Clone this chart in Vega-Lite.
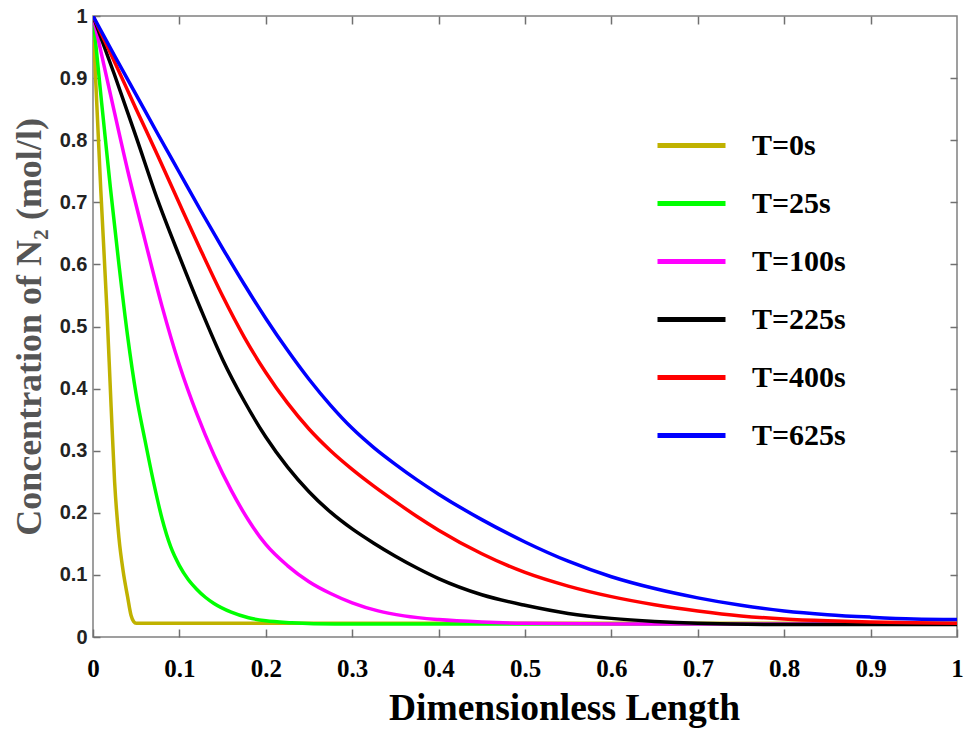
{
  "$schema": "https://vega.github.io/schema/vega-lite/v6.json",
  "width": 864,
  "height": 621,
  "autosize": {"type": "none"},
  "padding": {"left": 93, "top": 16, "right": 12, "bottom": 93},
  "background": "white",
  "config": {
    "view": {"stroke": "#808080", "strokeWidth": 1.5},
    "axis": {"grid": false, "domain": false, "tickColor": "#707070", "tickWidth": 1.5}
  },
  "data": {"values": [
    {"x":0,"c":1,"T":"T=0s"},{"x":0.003,"c":0.9,"T":"T=0s"},{"x":0.009,"c":0.72,"T":"T=0s"},{"x":0.016,"c":0.53,"T":"T=0s"},{"x":0.021,"c":0.37,"T":"T=0s"},{"x":0.025,"c":0.25,"T":"T=0s"},{"x":0.03,"c":0.16,"T":"T=0s"},{"x":0.035,"c":0.105,"T":"T=0s"},{"x":0.04,"c":0.065,"T":"T=0s"},{"x":0.044,"c":0.035,"T":"T=0s"},{"x":0.047,"c":0.025,"T":"T=0s"},{"x":0.05,"c":0.022,"T":"T=0s"},{"x":0.1,"c":0.022,"T":"T=0s"},{"x":0.5,"c":0.022,"T":"T=0s"},{"x":1,"c":0.022,"T":"T=0s"},
    {"x":0,"c":1,"T":"T=25s"},{"x":0.01,"c":0.86,"T":"T=25s"},{"x":0.02,"c":0.725,"T":"T=25s"},{"x":0.03,"c":0.6,"T":"T=25s"},{"x":0.04,"c":0.485,"T":"T=25s"},{"x":0.05,"c":0.39,"T":"T=25s"},{"x":0.06,"c":0.318,"T":"T=25s"},{"x":0.07,"c":0.25,"T":"T=25s"},{"x":0.08,"c":0.19,"T":"T=25s"},{"x":0.09,"c":0.145,"T":"T=25s"},{"x":0.1,"c":0.115,"T":"T=25s"},{"x":0.11,"c":0.093,"T":"T=25s"},{"x":0.12,"c":0.077,"T":"T=25s"},{"x":0.13,"c":0.064,"T":"T=25s"},{"x":0.14,"c":0.054,"T":"T=25s"},{"x":0.16,"c":0.04,"T":"T=25s"},{"x":0.18,"c":0.031,"T":"T=25s"},{"x":0.2,"c":0.026,"T":"T=25s"},{"x":0.23,"c":0.023,"T":"T=25s"},{"x":0.28,"c":0.021,"T":"T=25s"},{"x":1,"c":0.021,"T":"T=25s"},
    {"x":0,"c":1,"T":"T=100s"},{"x":0.02,"c":0.875,"T":"T=100s"},{"x":0.04,"c":0.752,"T":"T=100s"},{"x":0.06,"c":0.64,"T":"T=100s"},{"x":0.08,"c":0.532,"T":"T=100s"},{"x":0.1,"c":0.438,"T":"T=100s"},{"x":0.12,"c":0.36,"T":"T=100s"},{"x":0.14,"c":0.293,"T":"T=100s"},{"x":0.16,"c":0.236,"T":"T=100s"},{"x":0.18,"c":0.188,"T":"T=100s"},{"x":0.2,"c":0.149,"T":"T=100s"},{"x":0.225,"c":0.115,"T":"T=100s"},{"x":0.25,"c":0.089,"T":"T=100s"},{"x":0.275,"c":0.07,"T":"T=100s"},{"x":0.3,"c":0.055,"T":"T=100s"},{"x":0.33,"c":0.042,"T":"T=100s"},{"x":0.36,"c":0.034,"T":"T=100s"},{"x":0.4,"c":0.028,"T":"T=100s"},{"x":0.45,"c":0.024,"T":"T=100s"},{"x":0.5,"c":0.022,"T":"T=100s"},{"x":0.6,"c":0.021,"T":"T=100s"},{"x":1,"c":0.021,"T":"T=100s"},
    {"x":0,"c":1,"T":"T=225s"},{"x":0.025,"c":0.905,"T":"T=225s"},{"x":0.05,"c":0.805,"T":"T=225s"},{"x":0.075,"c":0.703,"T":"T=225s"},{"x":0.1,"c":0.613,"T":"T=225s"},{"x":0.125,"c":0.527,"T":"T=225s"},{"x":0.15,"c":0.447,"T":"T=225s"},{"x":0.175,"c":0.38,"T":"T=225s"},{"x":0.2,"c":0.322,"T":"T=225s"},{"x":0.225,"c":0.274,"T":"T=225s"},{"x":0.25,"c":0.234,"T":"T=225s"},{"x":0.275,"c":0.201,"T":"T=225s"},{"x":0.3,"c":0.174,"T":"T=225s"},{"x":0.325,"c":0.151,"T":"T=225s"},{"x":0.35,"c":0.13,"T":"T=225s"},{"x":0.375,"c":0.111,"T":"T=225s"},{"x":0.4,"c":0.094,"T":"T=225s"},{"x":0.45,"c":0.068,"T":"T=225s"},{"x":0.5,"c":0.051,"T":"T=225s"},{"x":0.55,"c":0.038,"T":"T=225s"},{"x":0.6,"c":0.03,"T":"T=225s"},{"x":0.65,"c":0.025,"T":"T=225s"},{"x":0.7,"c":0.022,"T":"T=225s"},{"x":0.8,"c":0.02,"T":"T=225s"},{"x":1,"c":0.02,"T":"T=225s"},
    {"x":0,"c":1,"T":"T=400s"},{"x":0.025,"c":0.926,"T":"T=400s"},{"x":0.05,"c":0.85,"T":"T=400s"},{"x":0.075,"c":0.775,"T":"T=400s"},{"x":0.1,"c":0.698,"T":"T=400s"},{"x":0.125,"c":0.622,"T":"T=400s"},{"x":0.15,"c":0.549,"T":"T=400s"},{"x":0.175,"c":0.483,"T":"T=400s"},{"x":0.2,"c":0.426,"T":"T=400s"},{"x":0.225,"c":0.377,"T":"T=400s"},{"x":0.25,"c":0.335,"T":"T=400s"},{"x":0.275,"c":0.3,"T":"T=400s"},{"x":0.3,"c":0.27,"T":"T=400s"},{"x":0.325,"c":0.243,"T":"T=400s"},{"x":0.35,"c":0.218,"T":"T=400s"},{"x":0.375,"c":0.194,"T":"T=400s"},{"x":0.4,"c":0.172,"T":"T=400s"},{"x":0.45,"c":0.134,"T":"T=400s"},{"x":0.5,"c":0.104,"T":"T=400s"},{"x":0.55,"c":0.082,"T":"T=400s"},{"x":0.6,"c":0.065,"T":"T=400s"},{"x":0.65,"c":0.052,"T":"T=400s"},{"x":0.7,"c":0.042,"T":"T=400s"},{"x":0.75,"c":0.034,"T":"T=400s"},{"x":0.8,"c":0.029,"T":"T=400s"},{"x":0.85,"c":0.026,"T":"T=400s"},{"x":0.9,"c":0.024,"T":"T=400s"},{"x":0.95,"c":0.023,"T":"T=400s"},{"x":1,"c":0.022,"T":"T=400s"},
    {"x":0,"c":1,"T":"T=625s"},{"x":0.025,"c":0.936,"T":"T=625s"},{"x":0.05,"c":0.873,"T":"T=625s"},{"x":0.075,"c":0.81,"T":"T=625s"},{"x":0.1,"c":0.748,"T":"T=625s"},{"x":0.125,"c":0.686,"T":"T=625s"},{"x":0.15,"c":0.626,"T":"T=625s"},{"x":0.175,"c":0.568,"T":"T=625s"},{"x":0.2,"c":0.513,"T":"T=625s"},{"x":0.225,"c":0.462,"T":"T=625s"},{"x":0.25,"c":0.415,"T":"T=625s"},{"x":0.275,"c":0.373,"T":"T=625s"},{"x":0.3,"c":0.336,"T":"T=625s"},{"x":0.325,"c":0.305,"T":"T=625s"},{"x":0.35,"c":0.278,"T":"T=625s"},{"x":0.375,"c":0.253,"T":"T=625s"},{"x":0.4,"c":0.23,"T":"T=625s"},{"x":0.45,"c":0.189,"T":"T=625s"},{"x":0.5,"c":0.153,"T":"T=625s"},{"x":0.55,"c":0.122,"T":"T=625s"},{"x":0.6,"c":0.097,"T":"T=625s"},{"x":0.65,"c":0.078,"T":"T=625s"},{"x":0.7,"c":0.063,"T":"T=625s"},{"x":0.75,"c":0.051,"T":"T=625s"},{"x":0.8,"c":0.042,"T":"T=625s"},{"x":0.85,"c":0.036,"T":"T=625s"},{"x":0.9,"c":0.032,"T":"T=625s"},{"x":0.95,"c":0.029,"T":"T=625s"},{"x":1,"c":0.028,"T":"T=625s"}
  ]},
  "layer": [
    {
      "mark": {"type": "line", "strokeWidth": 3.5, "interpolate": "monotone", "clip": true},
      "encoding": {
        "x": {"field": "x", "type": "quantitative", "scale": {"domain": [0, 1], "nice": false},
          "axis": {"orient": "bottom", "offset": -8, "title": "Dimensionless Length", "values": [0,0.1,0.2,0.3,0.4,0.5,0.6,0.7,0.8,0.9,1],
            "format": "~g", "tickSize": 8, "labelPadding": 19, "labelFont": "Liberation Serif", "labelFontWeight": "bold", "labelFontSize": 25, "labelColor": "#000",
            "labelFlush": false, "titleFont": "Liberation Serif", "titleFontWeight": "bold", "titleFontSize": 37.5, "titleColor": "#000", "titlePadding": 8, "titleX": 471}},
        "y": {"field": "c", "type": "quantitative", "scale": {"domain": [0, 1], "nice": false},
          "axis": {"orient": "left", "offset": -7, "title": "Concentration of N₂ (mol/l)", "values": [0,0.1,0.2,0.3,0.4,0.5,0.6,0.7,0.8,0.9,1],
            "format": "~g", "tickSize": 7, "labelPadding": 6, "labelFont": "Liberation Sans", "labelFontWeight": "bold", "labelFontSize": 20, "labelColor": "#222",
            "labelFlush": false, "titleFont": "Liberation Serif", "titleFontWeight": "bold", "titleFontSize": 36, "titleColor": "#555", "titlePadding": 11}},
        "color": {"field": "T", "type": "nominal",
          "scale": {"domain": ["T=0s","T=25s","T=100s","T=225s","T=400s","T=625s"], "range": ["#c0b200","#00ff00","#ff00ff","#000000","#ff0000","#0000ff"]},
          "legend": {"orient": "none", "legendX": 562, "legendY": 93, "title": null, "symbolType": "stroke", "symbolSize": 4624, "symbolStrokeWidth": 5,
            "labelFont": "Liberation Serif", "labelFontWeight": "bold", "labelFontSize": 30, "labelColor": "#000", "labelOffset": 24, "rowPadding": 6, "padding": 0}}
      }
    },
    {
      "mark": {"type": "point", "opacity": 0},
      "encoding": {
        "x": {"field": "x", "type": "quantitative", "scale": {"domain": [0, 1], "nice": false},
          "axis": {"orient": "top", "offset": -8, "title": null, "labels": false, "values": [0.1,0.2,0.3,0.4,0.5,0.6,0.7,0.8,0.9], "tickSize": 8}},
        "y": {"field": "c", "type": "quantitative", "scale": {"domain": [0, 1], "nice": false},
          "axis": {"orient": "right", "offset": -7, "title": null, "labels": false, "values": [0.1,0.2,0.3,0.4,0.5,0.6,0.7,0.8,0.9], "tickSize": 7}}
      }
    }
  ],
  "resolve": {"axis": {"x": "independent", "y": "independent"}}
}
